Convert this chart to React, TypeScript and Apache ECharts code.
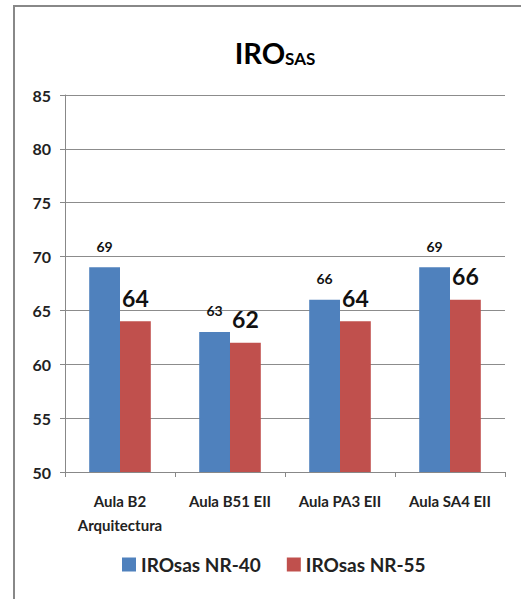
import React, { useEffect, useRef } from "react";
import * as echarts from "echarts";

const categories = ["Aula B2\nArquitectura", "Aula B51 EII", "Aula PA3 EII", "Aula SA4 EII"];
const seriesNames = ["IROsas NR-40", "IROsas NR-55"];
const nr40 = [69, 63, 66, 69];
const nr55 = [64, 62, 64, 66];

const FONT = "Lato, 'Liberation Sans', sans-serif";

export default function App() {
  const ref = useRef<HTMLDivElement>(null);
  useEffect(() => {
    if (!ref.current) return;
    const chart = echarts.init(ref.current, null, { renderer: "svg" });
    chart.setOption({
      animation: false,
      backgroundColor: "#ffffff",
      textStyle: { fontFamily: FONT },
      title: {
        text: "{a|IRO}{b|SAS}",
        left: 270,
        textAlign: "center",
        top: 28,
        textStyle: {
          rich: {
            a: { fontSize: 29, fontWeight: "bold", color: "#000", fontFamily: FONT, lineHeight: 34, verticalAlign: "bottom" },
            b: { fontSize: 17, fontWeight: "bold", color: "#000", fontFamily: FONT, lineHeight: 34, verticalAlign: "bottom", padding: [13, 0, 0, 0] },
          },
        },
      },
      graphic: [
        { type: "line", shape: { x1: 13, y1: 6, x2: 521, y2: 6 }, style: { stroke: "#888888", lineWidth: 2 } },
        { type: "line", shape: { x1: 14, y1: 6, x2: 14, y2: 599 }, style: { stroke: "#888888", lineWidth: 2 } },
      ],
      legend: {
        bottom: 20,
        left: 117,
        itemWidth: 14,
        itemHeight: 14,
        itemGap: 26,
        icon: "rect",
        textStyle: { fontSize: 19, fontWeight: "bold", color: "#222", fontFamily: FONT },
        data: seriesNames,
      },
      grid: { left: 65, right: 16, top: 95, bottom: 127, containLabel: false },
      xAxis: {
        type: "category",
        data: categories,
        axisLine: { lineStyle: { color: "#888888", width: 1 } },
        axisTick: { show: true, length: 5, lineStyle: { color: "#888888" } },
        axisLabel: { fontSize: 15, fontWeight: "bold", color: "#222", margin: 17, lineHeight: 24, fontFamily: FONT, interval: 0 },
      },
      yAxis: {
        type: "value",
        min: 50,
        max: 85,
        interval: 5,
        axisLine: { show: true, lineStyle: { color: "#888888" } },
        axisTick: { show: true, length: 5, lineStyle: { color: "#888888" } },
        splitLine: { lineStyle: { color: "#8c8c8c", width: 1 } },
        axisLabel: { fontSize: 16, fontWeight: "bold", color: "#222", margin: 14, fontFamily: FONT },
      },
      series: [
        {
          name: seriesNames[0],
          type: "bar",
          data: nr40,
          barGap: "0%",
          barCategoryGap: "44%",
          itemStyle: { color: "#4F81BD" },
          label: { show: true, position: "top", distance: 14, fontSize: 14, fontWeight: "bold", color: "#111", fontFamily: FONT },
        },
        {
          name: seriesNames[1],
          type: "bar",
          data: nr55,
          barGap: "0%",
          barCategoryGap: "44%",
          itemStyle: { color: "#C0504D" },
          label: { show: true, position: "top", distance: 12, fontSize: 23, fontWeight: "bold", color: "#111", fontFamily: FONT },
        },
      ],
    });
    return () => chart.dispose();
  }, []);
  return <div ref={ref} style={{ position: "absolute", left: 0, top: 0, width: 521, height: 599 }} />;
}
